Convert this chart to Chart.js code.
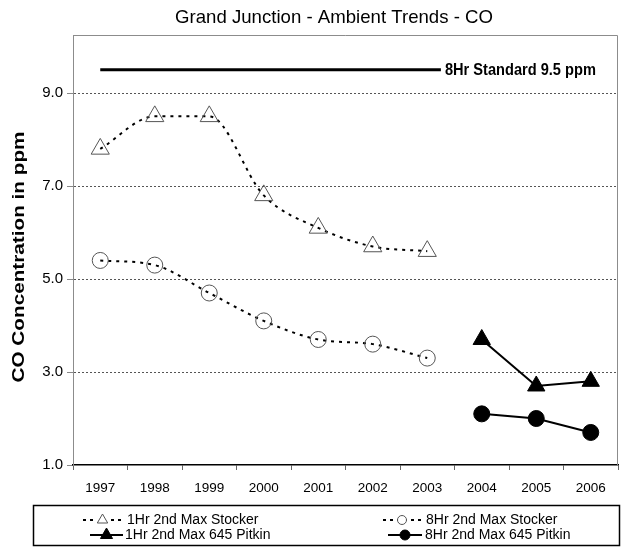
<!DOCTYPE html>
<html><head><meta charset="utf-8">
<script src="https://cdn.jsdelivr.net/npm/chart.js@4"></script>
<style>html,body{margin:0;padding:0;background:#fff;} #wrap{width:621px;height:548px;position:relative;}</style>
</head><body><div id="wrap"><canvas id="c" width="621" height="548"></canvas></div>
<script>
// ---- data ----
const years = ['1997','1998','1999','2000','2001','2002','2003','2004','2005','2006'];
const stocker1Hr = [7.8, 8.5, 8.5, 6.8, 6.1, 5.7, 5.6, null, null, null];
const stocker8Hr = [5.4, 5.3, 4.7, 4.1, 3.7, 3.6, 3.3, null, null, null];
const pitkin1Hr  = [null, null, null, null, null, null, null, 3.7, 2.7, 2.8];
const pitkin8Hr  = [null, null, null, null, null, null, null, 2.1, 2.0, 1.7];
const yTickValues = [1, 3, 5, 7, 9];
const standardValue = 9.5;
const standardLabel = '8Hr Standard 9.5 ppm';
const chartTitle = 'Grand Junction - Ambient Trends - CO';
const yAxisTitle = 'CO Concentration in ppm';
const seriesLabels = ['1Hr 2nd Max Stocker', '8Hr 2nd Max Stocker', '1Hr 2nd Max 645 Pitkin', '8Hr 2nd Max 645 Pitkin'];

const FONT = "'Liberation Sans', Arial, sans-serif";

function fittedText(ctx, text, x, y, font, width, align, rot) {
  ctx.save();
  ctx.font = font;
  const w = ctx.measureText(text).width;
  ctx.translate(x, y);
  if (rot) ctx.rotate(rot);
  ctx.scale(width / w, 1);
  ctx.textAlign = align || 'center';
  ctx.textBaseline = 'middle';
  ctx.fillStyle = '#000';
  ctx.fillText(text, 0, 0);
  ctx.restore();
}

function marker(ctx, style, x, y, r, fill, stroke) {
  ctx.save();
  ctx.beginPath();
  if (style === 'triangle') {
    ctx.moveTo(x, y - r);
    ctx.lineTo(x + r * 0.866, y + r * 0.5);
    ctx.lineTo(x - r * 0.866, y + r * 0.5);
    ctx.closePath();
  } else {
    ctx.arc(x, y, r, 0, Math.PI * 2);
  }
  if (fill) { ctx.fillStyle = fill; ctx.fill(); }
  ctx.setLineDash([]);
  ctx.lineWidth = 1;
  ctx.strokeStyle = stroke;
  ctx.stroke();
  ctx.restore();
}

const decor = {
  id: 'decor',
  afterDatasetsDraw(chart) {
    const {ctx, chartArea: a, scales: {x, y}} = chart;
    // frame (top & right)
    ctx.save();
    ctx.strokeStyle = '#8c8c8c';
    ctx.lineWidth = 1;
    ctx.beginPath();
    ctx.moveTo(a.left, a.top + 0.5);
    ctx.lineTo(a.right - 0.5, a.top + 0.5);
    ctx.lineTo(a.right - 0.5, a.bottom);
    ctx.stroke();
    ctx.restore();
    // standard line
    const ys = y.getPixelForValue(standardValue);
    const x0 = x.getPixelForValue(0);
    const step = x.getPixelForValue(1) - x0;
    ctx.save();
    ctx.strokeStyle = '#000';
    ctx.lineWidth = 3;
    ctx.beginPath();
    ctx.moveTo(x0, ys);
    ctx.lineTo(x0 + step * 6.25, ys);
    ctx.stroke();
    ctx.restore();
    fittedText(ctx, standardLabel, x0 + step * 6.25 + 4, ys, 'bold 17px ' + FONT, 151, 'left');
  },
  afterDraw(chart) {
    const {ctx} = chart;
    // title
    fittedText(ctx, chartTitle, 334, 18, '19px ' + FONT, 318, 'center');
    // y-axis title
    fittedText(ctx, yAxisTitle, 19, 257, 'bold 17px ' + FONT, 251, 'center', -Math.PI / 2);
    // legend box
    ctx.save();
    ctx.strokeStyle = '#000';
    ctx.lineWidth = 1.5;
    ctx.strokeRect(33.5, 505.5, 586, 40);
    ctx.restore();
    const items = [
      {x: 83, w: 39, y: 520, dash: [3, 4], style: 'triangle', r: 6, fill: null, tx: 127},
      {x: 383, w: 38, y: 520, dash: [3, 4], style: 'circle', r: 4.5, fill: null, tx: 426},
      {x: 90, w: 33, y: 535, dash: [], style: 'triangle', r: 7, fill: '#000', tx: 125},
      {x: 388, w: 34, y: 535, dash: [], style: 'circle', r: 5, fill: '#000', tx: 425}
    ];
    items.forEach((it, i) => {
      ctx.save();
      ctx.strokeStyle = '#000';
      ctx.lineWidth = 2;
      ctx.setLineDash(it.dash);
      ctx.beginPath();
      ctx.moveTo(it.x, it.y);
      ctx.lineTo(it.x + it.w, it.y);
      ctx.stroke();
      ctx.restore();
      if (it.fill === null) {
        ctx.save();
        ctx.fillStyle = '#fff';
        ctx.fillRect(it.x + it.w / 2 - it.r, it.y - it.r, it.r * 2, it.r * 2);
        ctx.restore();
        marker(ctx, it.style, it.x + it.w / 2, it.y, it.r, null, '#555');
      } else {
        marker(ctx, it.style, it.x + it.w / 2, it.y, it.r, '#000', '#000');
      }
      ctx.save();
      ctx.font = '14px ' + FONT;
      ctx.fillStyle = '#000';
      ctx.textAlign = 'left';
      ctx.textBaseline = 'middle';
      ctx.fillText(seriesLabels[i], it.tx, it.y);
      ctx.restore();
    });
  }
};

new Chart(document.getElementById('c'), {
  type: 'line',
  data: {
    labels: years,
    datasets: [
      {label: seriesLabels[0], data: stocker1Hr, borderColor: '#000', borderWidth: 2, borderDash: [3, 5],
       cubicInterpolationMode: 'monotone', pointStyle: 'triangle', pointRadius: 10.5, pointBorderWidth: 1,
       pointBorderColor: '#555', pointBackgroundColor: 'rgba(0,0,0,0)', spanGaps: false},
      {label: seriesLabels[1], data: stocker8Hr, borderColor: '#000', borderWidth: 2, borderDash: [3, 5],
       cubicInterpolationMode: 'monotone', pointStyle: 'circle', pointRadius: 8, pointBorderWidth: 1,
       pointBorderColor: '#555', pointBackgroundColor: 'rgba(0,0,0,0)', spanGaps: false},
      {label: seriesLabels[2], data: pitkin1Hr, borderColor: '#000', borderWidth: 2,
       tension: 0, pointStyle: 'triangle', pointRadius: 10, pointBorderWidth: 1,
       pointBorderColor: '#000', pointBackgroundColor: '#000'},
      {label: seriesLabels[3], data: pitkin8Hr, borderColor: '#000', borderWidth: 2,
       tension: 0, pointStyle: 'circle', pointRadius: 8, pointBorderWidth: 1,
       pointBorderColor: '#000', pointBackgroundColor: '#000'}
    ]
  },
  options: {
    responsive: false,
    animation: false,
    devicePixelRatio: 1,
    layout: {autoPadding: false, padding: {top: 35, right: 3, left: 0, bottom: 0}},
    plugins: {legend: {display: false}, title: {display: false}, tooltip: {enabled: false}},
    scales: {
      x: {
        type: 'category',
        offset: true,
        grid: {offset: true, drawOnChartArea: false, drawTicks: true, tickLength: 5, tickColor: '#666', color: '#666'},
        border: {display: true, color: '#000', width: 1.5},
        ticks: {font: {family: FONT, size: 13.5}, color: '#000', padding: 10, maxRotation: 0, autoSkip: false},
        afterFit(s) { s.height = 548 - 465; s.paddingLeft = 0; s.paddingRight = 0; }
      },
      y: {
        min: 1, max: 10.25,
        afterBuildTicks(s) { s.ticks = yTickValues.map(v => ({value: v})); },
        afterFit(s) { s.width = 73; s.paddingTop = 0; s.paddingBottom = 0; },
        grid: {
          color: ctx => (ctx.tick && ctx.tick.value === 1) ? 'rgba(0,0,0,0)' : '#555',
          lineWidth: 1, drawTicks: true, tickLength: 6, tickColor: '#888'
        },
        border: {display: true, color: '#8c8c8c', width: 1, dash: [2, 2]},
        ticks: {font: {family: FONT, size: 15}, color: '#000', padding: 4,
                callback: v => Number(v).toFixed(1)}
      }
    }
  },
  plugins: [decor]
});
</script>
</body></html>
